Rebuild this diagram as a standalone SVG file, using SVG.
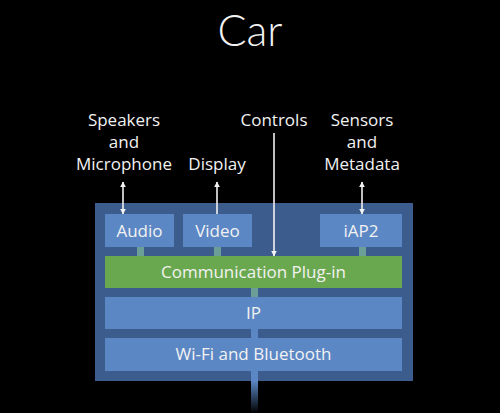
<svg xmlns="http://www.w3.org/2000/svg" width="500" height="413" viewBox="0 0 500 413">
<defs>
<style>
.t{font-family:"Open Sans","Noto Sans",sans-serif;fill:#f2f2f2;text-anchor:middle}
.lbl{font-size:17px}
.box{fill:#5b87c5}
.stub{fill:#6a9e96}
.ln{stroke:#f2f2f2;stroke-width:1.6;fill:none}
</style>
<marker id="ah" viewBox="0 0 10 10" refX="9" refY="5" markerWidth="6" markerHeight="6" orient="auto-start-reverse" markerUnits="userSpaceOnUse">
<path d="M0,0 L10,5 L0,10 z" fill="#f2f2f2"/>
</marker>
<linearGradient id="fade" x1="0" y1="0" x2="0" y2="1">
<stop offset="0" stop-color="#5b87c5"/>
<stop offset="1" stop-color="#5b87c5" stop-opacity="0"/>
</linearGradient>
</defs>
<rect width="500" height="413" fill="#000"/>
<text x="250" y="46" font-family="Lato, 'Open Sans', sans-serif" font-weight="300" font-size="43" fill="#f2f2f2" text-anchor="middle">Car</text>

<g id="car-container"><rect x="95" y="203" width="318" height="178" fill="#3b5c8c"/></g>

<g id="connectors">
<rect class="stub" x="137" y="247" width="7" height="9"/>
<rect class="stub" x="214" y="247" width="7" height="9"/>
<rect class="stub" x="359" y="247" width="7" height="9"/>
<rect class="stub" x="251" y="288" width="7" height="9"/>
<rect x="251" y="329" width="7" height="9" fill="#5b87c5"/>
<rect x="251" y="371" width="7" height="10" fill="#5b87c5"/>
<rect x="251" y="381" width="7" height="32" fill="url(#fade)"/>
<line class="ln" x1="123" y1="182" x2="123" y2="214" marker-start="url(#ah)" marker-end="url(#ah)"/>
<line class="ln" x1="217" y1="182" x2="217" y2="214" marker-start="url(#ah)"/>
<line class="ln" x1="274" y1="133" x2="274" y2="256" marker-end="url(#ah)"/>
<line class="ln" x1="362" y1="182" x2="362" y2="214" marker-start="url(#ah)" marker-end="url(#ah)"/>
</g>

<g id="audio"><rect class="box" x="105" y="214" width="69" height="33"/><text class="t lbl" x="139.5" y="237">Audio</text></g>
<g id="video"><rect class="box" x="183" y="214" width="69" height="33"/><text class="t lbl" x="217.5" y="237">Video</text></g>
<g id="iap2"><rect class="box" x="320" y="214" width="82" height="33"/><text class="t lbl" x="361" y="237">iAP2</text></g>
<g id="comm-plugin"><rect x="105" y="256" width="297" height="32" fill="#6aa84f"/><text class="t lbl" x="253.5" y="278">Communication Plug-in</text></g>
<g id="ip"><rect class="box" x="105" y="297" width="297" height="32"/><text class="t lbl" x="253.5" y="319">IP</text></g>
<g id="wifi"><rect class="box" x="105" y="338" width="297" height="33"/><text class="t lbl" x="253.5" y="360">Wi-Fi and Bluetooth</text></g>

<g id="label-speakers"><text class="t lbl" x="124" y="126">Speakers</text><text class="t lbl" x="124" y="148">and</text><text class="t lbl" x="124" y="170">Microphone</text></g>
<g id="label-display"><text class="t lbl" x="217" y="170">Display</text></g>
<g id="label-controls"><text class="t lbl" x="274" y="126">Controls</text></g>
<g id="label-sensors"><text class="t lbl" x="362" y="126">Sensors</text><text class="t lbl" x="362" y="148">and</text><text class="t lbl" x="362" y="170">Metadata</text></g>
</svg>
